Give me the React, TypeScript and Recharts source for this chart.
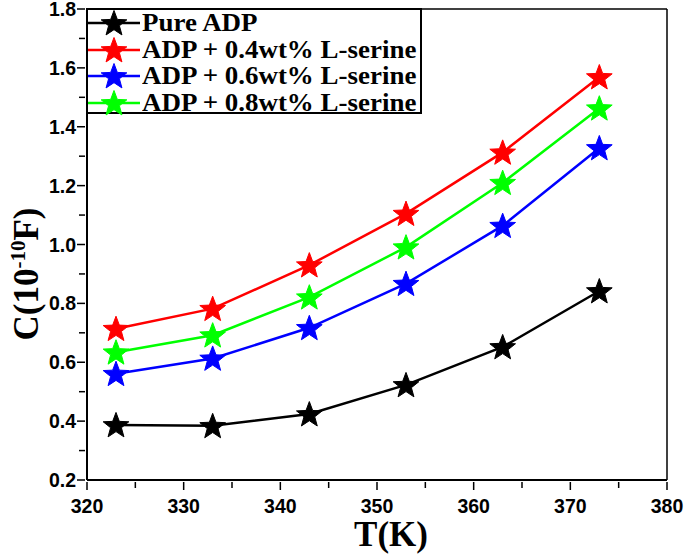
import { LineChart, Line, XAxis, YAxis, ReferenceLine, Legend } from "recharts";

const temps = [323, 333, 343, 353, 363, 373];
const pureADP = [0.387, 0.384, 0.424, 0.523, 0.652, 0.842];
const serine04 = [0.714, 0.782, 0.93, 1.105, 1.313, 1.569];
const serine06 = [0.561, 0.613, 0.717, 0.867, 1.064, 1.328];
const serine08 = [0.634, 0.692, 0.821, 0.991, 1.21, 1.463];

const xTicks = [320, 325, 330, 335, 340, 345, 350, 355, 360, 365, 370, 375, 380];
const yTicks = [0.2, 0.3, 0.4, 0.5, 0.6, 0.7, 0.8, 0.9, 1.0, 1.1, 1.2, 1.3, 1.4, 1.5, 1.6, 1.7, 1.8];

const series = [
  { key: "pure", name: "Pure ADP", color: "#000000" },
  { key: "s04", name: "ADP + 0.4wt% L-serine", color: "#ff0000" },
  { key: "s06", name: "ADP + 0.6wt% L-serine", color: "#0000ff" },
  { key: "s08", name: "ADP + 0.8wt% L-serine", color: "#00ff00" },
];

const data = temps.map((t, i) => ({
  T: t,
  pure: pureADP[i],
  s04: serine04[i],
  s06: serine06[i],
  s08: serine08[i],
}));

const SANS = "'Liberation Sans', Arial, sans-serif";
const SERIF = "'Liberation Serif', 'Times New Roman', serif";

function starPoints(cx: number, cy: number, R: number) {
  const r = R * 0.42;
  const pts: string[] = [];
  for (let i = 0; i < 10; i++) {
    const rad = i % 2 === 0 ? R : r;
    const a = -Math.PI / 2 + (i * Math.PI) / 5;
    pts.push(`${cx + rad * Math.cos(a)},${cy + rad * Math.sin(a)}`);
  }
  return pts.join(" ");
}

const starDot = (color: string) => (props: any) => {
  const { cx, cy, index } = props;
  if (cx == null || cy == null) return <g key={index} />;
  return <polygon key={index} points={starPoints(cx, cy + 1, 13.5)} fill={color} stroke={color} strokeWidth={1} />;
};

const XTick = ({ x, y, payload }: any) => {
  const v = payload.value as number;
  const major = v % 10 === 0;
  return (
    <g>
      <line x1={x} x2={x} y1={y} y2={y + (major ? 8 : 6)} stroke="#000" strokeWidth={1.5} />
      {major && (
        <text x={x} y={y + 31} textAnchor="middle" fontFamily={SANS} fontWeight="bold" fontSize={19.5} fill="#000">
          {v}
        </text>
      )}
    </g>
  );
};

const YTick = ({ x, y, payload }: any) => {
  const v = payload.value as number;
  const major = Math.round(v * 10) % 2 === 0;
  return (
    <g>
      <line x1={x - (major ? 8 : 6)} x2={x} y1={y} y2={y} stroke="#000" strokeWidth={1.5} />
      {major && (
        <text x={x - 9} y={y + 7} textAnchor="end" fontFamily={SANS} fontWeight="bold" fontSize={19.5} fill="#000">
          {v.toFixed(1)}
        </text>
      )}
    </g>
  );
};

const YTitle = () => (
  <text
    transform="translate(38 274) rotate(-90)"
    textAnchor="middle"
    fontFamily={SERIF}
    fontWeight="bold"
    fontSize={35}
    fill="#000"
  >
    C(10<tspan fontSize={21} dy={-13}>-10</tspan>
    <tspan dy={13}>F)</tspan>
  </text>
);

const XTitle = () => (
  <text x={391} y={546} textAnchor="middle" fontFamily={SERIF} fontWeight="bold" fontSize={35} fill="#000">
    T(K)
  </text>
);

const LegendBox = () => (
  <div
    style={{
      border: "2px solid #000",
      width: 332,
      height: 102,
      background: "#fff",
      boxSizing: "content-box",
    }}
  >
    {series.map((s) => (
      <div key={s.key} style={{ display: "flex", alignItems: "center", height: 26.5 }}>
        <svg width={52} height={28} style={{ flex: "none" }}>
          <line x1={0} x2={52} y1={14} y2={14} stroke={s.color} strokeWidth={2.5} />
          <polygon points={starPoints(26, 15, 13.5)} fill={s.color} stroke={s.color} />
        </svg>
        <span
          style={{
            fontFamily: SERIF,
            fontWeight: "bold",
            fontSize: 24.5,
            whiteSpace: "nowrap",
            display: "inline-block",
            transform: "scaleX(1.1)",
            transformOrigin: "left center",
            marginLeft: 2,
            lineHeight: 1,
          }}
        >
          {s.name}
        </span>
      </div>
    ))}
  </div>
);

export default function App() {
  return (
    <div style={{ position: "absolute", left: 0, top: 0, width: 685, height: 557, background: "#fff" }}>
      <LineChart width={685} height={557} data={data} margin={{ top: 9, right: 18, bottom: 0, left: 0 }}>
        <XAxis
          dataKey="T"
          type="number"
          domain={[320, 380]}
          ticks={xTicks}
          interval={0}
          height={77}
          tickSize={0}
          tickLine={false}
          axisLine={{ stroke: "#000", strokeWidth: 2 }}
          tick={<XTick />}
          label={<XTitle />}
        />
        <YAxis
          type="number"
          domain={[0.2, 1.8]}
          ticks={yTicks}
          interval={0}
          width={87}
          tickSize={0}
          tickLine={false}
          axisLine={{ stroke: "#000", strokeWidth: 2 }}
          tick={<YTick />}
          label={<YTitle />}
        />
        <ReferenceLine y={1.8} stroke="#000" strokeWidth={1.5} />
        <ReferenceLine x={380} stroke="#000" strokeWidth={1.5} />
        {series.map((s) => (
          <Line
            key={s.key}
            type="linear"
            dataKey={s.key}
            name={s.name}
            stroke={s.color}
            strokeWidth={2.5}
            dot={starDot(s.color)}
            activeDot={false}
            isAnimationActive={false}
          />
        ))}
        <Legend
          layout="vertical"
          align="center"
          verticalAlign="middle"
          content={<LegendBox />}
          wrapperStyle={{ left: 86, top: 8, width: "auto", height: "auto" }}
        />
      </LineChart>
    </div>
  );
}
